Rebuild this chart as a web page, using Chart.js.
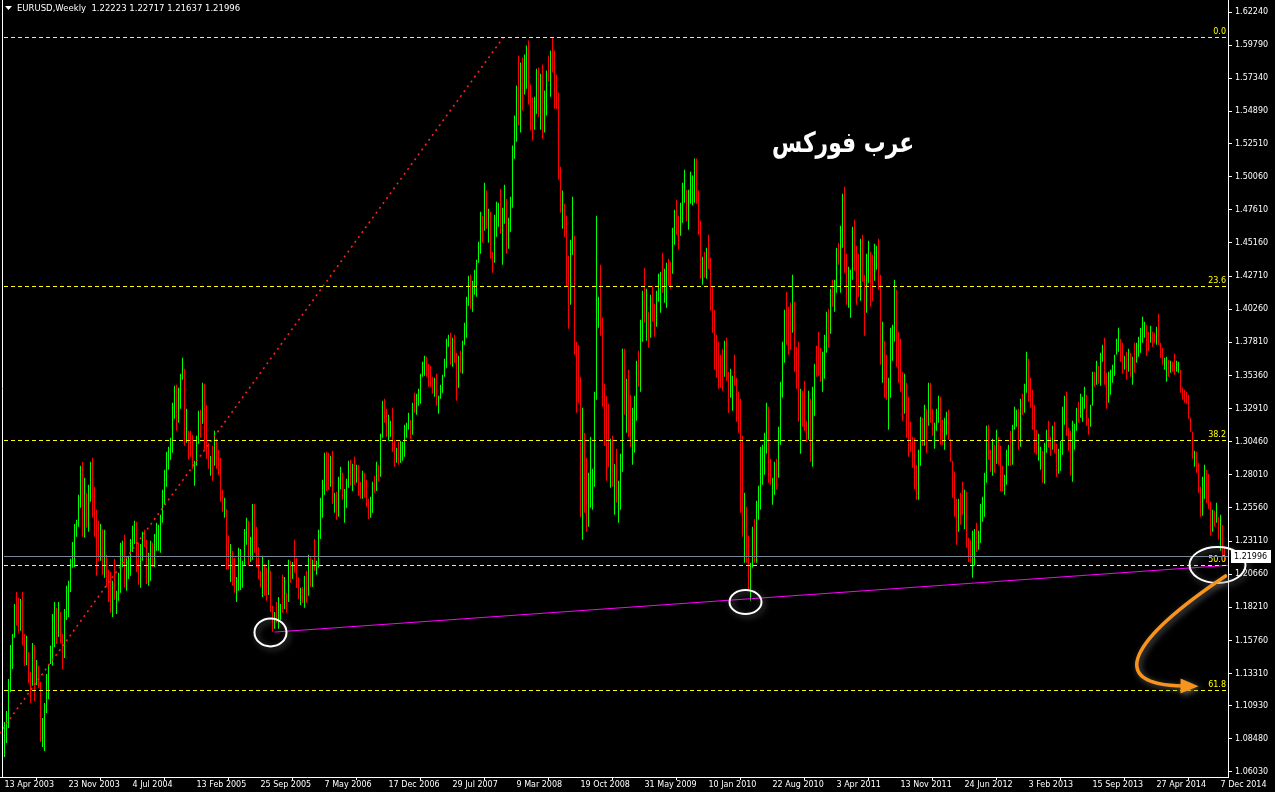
<!DOCTYPE html>
<html>
<head>
<meta charset="utf-8">
<script src="https://cdn.jsdelivr.net/npm/chart.js@4.4.1/dist/chart.umd.min.js"></script>
<style>
  html, body { margin: 0; padding: 0; background: #000; }
  canvas { display: block; }
</style>
</head>
<body>
<canvas id="chart" width="1275" height="792"></canvas>
<script>
// EURUSD weekly bars, 13 Apr 2003 .. Dec 2014 (one bar per week)
const symbolTitle = "EURUSD,Weekly";
const lastBar = [1.22223, 1.22717, 1.21637, 1.21996]; // open, high, low, close

const dateLabels = [
  "13 Apr 2003", "23 Nov 2003", "4 Jul 2004", "13 Feb 2005", "25 Sep 2005",
  "7 May 2006", "17 Dec 2006", "29 Jul 2007", "9 Mar 2008", "19 Oct 2008",
  "31 May 2009", "10 Jan 2010", "22 Aug 2010", "3 Apr 2011", "13 Nov 2011",
  "24 Jun 2012", "3 Feb 2013", "15 Sep 2013", "27 Apr 2014", "7 Dec 2014"
];
const weeksPerLabel = 32;

const priceTicks = [
  1.62240, 1.59790, 1.57340, 1.54890, 1.52510, 1.50060, 1.47610, 1.45160,
  1.42710, 1.40260, 1.37810, 1.35360, 1.32910, 1.30460, 1.28010, 1.25560,
  1.23110, 1.20660, 1.18210, 1.15760, 1.13310, 1.10930, 1.08480, 1.06030
];

const highs = [
  1.0973,1.1055,1.1291,1.1543,1.1624,1.1846,1.1935,1.1891,1.1883,1.1935,
  1.1624,1.1610,1.1491,1.1343,1.1558,1.1543,1.1432,1.1388,1.1269,1.1003,
  1.1114,1.1328,1.1395,1.1536,1.1772,1.1861,1.1817,1.1861,1.1787,1.1624,
  1.1809,1.1980,1.2017,1.2180,1.2305,1.2438,1.2468,1.2653,1.2868,1.2897,
  1.2779,1.2668,1.2727,1.2897,1.2927,1.2712,1.2542,1.2461,1.2438,1.2401,
  1.2394,1.2209,1.2098,1.2083,1.2017,1.2179,1.1943,1.2076,1.2298,1.2313,
  1.2357,1.2187,1.2202,1.2327,1.2424,1.2461,1.2453,1.2298,1.2290,1.2379,
  1.2394,1.2320,1.2224,1.2313,1.2298,1.2364,1.2446,1.2431,1.2505,1.2690,
  1.2838,1.2971,1.3008,1.3075,1.3334,1.3460,1.3467,1.3445,1.3548,1.3667,
  1.3585,1.3289,1.3127,1.3127,1.3097,1.2905,1.3090,1.3275,1.3282,1.3482,
  1.3474,1.3319,1.3038,1.2942,1.3016,1.3127,1.3067,1.2986,1.2927,1.2690,
  1.2631,1.2549,1.2350,1.2290,1.2239,1.2187,1.2046,1.2261,1.2253,1.2165,
  1.2401,1.2483,1.2461,1.2342,1.2586,1.2586,1.2416,1.2268,1.2091,1.2202,
  1.2142,1.2113,1.2172,1.2091,1.1832,1.1787,1.1861,1.1898,1.1846,1.2061,
  1.2046,1.1928,1.2172,1.2165,1.2157,1.2320,1.2187,1.2046,1.1965,1.1972,
  1.2054,1.2091,1.2209,1.2194,1.2172,1.2327,1.2165,1.2394,1.2631,1.2764,
  1.2964,1.2971,1.2964,1.2942,1.2979,1.2668,1.2675,1.2786,1.2860,1.2816,
  1.2697,1.2771,1.2905,1.2912,1.2882,1.2934,1.2875,1.2875,1.2749,1.2831,
  1.2816,1.2764,1.2624,1.2638,1.2749,1.2794,1.2897,1.2875,1.3104,1.3349,
  1.3363,1.3289,1.3245,1.3201,1.3297,1.3060,1.3001,1.3045,1.3053,1.3045,
  1.3171,1.3186,1.3260,1.3208,1.3334,1.3408,1.3400,1.3437,1.3548,1.3637,
  1.3682,1.3674,1.3622,1.3608,1.3526,1.3519,1.3548,1.3386,1.3467,1.3541,
  1.3659,1.3807,1.3837,1.3852,1.3815,1.3837,1.3704,1.3682,1.3719,1.3793,
  1.3926,1.4118,1.4274,1.4281,1.4237,1.4318,1.4392,1.4525,1.4747,1.4718,
  1.4962,1.4903,1.4769,1.4747,1.4451,1.4725,1.4821,1.4814,1.4917,1.4777,
  1.4947,1.4843,1.4703,1.4858,1.5236,1.5458,1.5680,1.5902,1.5850,1.5887,
  1.5909,1.5976,1.6013,1.5687,1.5591,1.5598,1.5805,1.5813,1.5768,1.5835,
  1.5643,1.5791,1.5902,1.5939,1.6038,1.5939,1.5761,1.5628,1.5080,1.4903,
  1.4806,1.4718,1.4422,1.4540,1.4858,1.4570,1.3785,1.3763,1.3526,1.3297,
  1.3112,1.2927,1.2816,1.3082,1.2845,1.3415,1.4718,1.4118,1.4355,1.3963,
  1.3474,1.3386,1.3326,1.3067,1.3090,1.2882,1.2993,1.2757,1.2956,1.3733,
  1.3733,1.3511,1.3578,1.3393,1.3297,1.3386,1.3645,1.3719,1.3948,1.4163,
  1.4333,1.4177,1.4007,1.4133,1.4200,1.4066,1.4163,1.4288,1.4303,1.4444,
  1.4325,1.4370,1.4399,1.4377,1.4629,1.4762,1.4836,1.4718,1.4814,1.4962,
  1.5058,1.4910,1.4910,1.5043,1.5014,1.5140,1.5140,1.4903,1.4681,1.4414,
  1.4451,1.4481,1.4577,1.4407,1.4192,1.4022,1.3837,1.3785,1.3689,1.3733,
  1.3793,1.3815,1.3563,1.3585,1.3534,1.3689,1.3519,1.3415,1.3363,1.3090,
  1.2668,1.2564,1.2350,1.2150,1.2416,1.2475,1.2609,1.2720,1.3008,1.3023,
  1.3112,1.3334,1.3304,1.2919,1.2779,1.2897,1.2919,1.3156,1.3489,1.3785,
  1.4022,1.4155,1.4044,1.4074,1.4281,1.4081,1.3748,1.3785,1.3437,1.3423,
  1.3497,1.3201,1.3423,1.3363,1.3452,1.3622,1.3756,1.3859,1.3741,1.3711,
  1.3837,1.4007,1.4029,1.4177,1.4244,1.4244,1.4481,1.4518,1.4644,1.4880,
  1.4932,1.4436,1.4340,1.4318,1.4636,1.4688,1.4496,1.4436,1.4547,1.4577,
  1.4281,1.4436,1.4532,1.4451,1.4429,1.4510,1.4496,1.4547,1.4281,1.3933,
  1.3793,1.3689,1.3519,1.3889,1.3911,1.4244,1.4170,1.3859,1.3807,1.3563,
  1.3548,1.3482,1.3378,1.3193,1.3082,1.3075,1.2875,1.2986,1.3230,1.3223,
  1.3319,1.3289,1.3482,1.3482,1.3289,1.3186,1.3289,1.3386,1.3378,1.3208,
  1.3223,1.3267,1.3282,1.3067,1.2905,1.2823,1.2624,1.2624,1.2668,1.2749,
  1.2690,1.2675,1.2335,1.2320,1.2387,1.2401,1.2446,1.2387,1.2586,1.2638,
  1.2816,1.3164,1.3171,1.2986,1.3067,1.3023,1.3134,1.3082,1.3016,1.2868,
  1.2801,1.2986,1.3023,1.3127,1.3171,1.3304,1.3282,1.3289,1.3363,1.3400,
  1.3474,1.3711,1.3659,1.3519,1.3430,1.3319,1.3134,1.3104,1.3008,1.2979,
  1.3038,1.3134,1.3201,1.3082,1.3164,1.3193,1.3030,1.2994,1.3053,1.3304,
  1.3386,1.3415,1.3149,1.3127,1.3201,1.3178,1.3297,1.3341,1.3400,1.3378,
  1.3452,1.3393,1.3223,1.3319,1.3563,1.3563,1.3645,1.3608,1.3704,1.3763,
  1.3815,1.3556,1.3563,1.3578,1.3615,1.3689,1.3807,1.3889,1.3807,1.3778,
  1.3682,1.3711,1.3733,1.3704,1.3674,1.3778,1.3778,1.3822,1.3889,1.3970,
  1.3933,1.3911,1.3859,1.3904,1.3859,1.3852,1.3896,1.3993,1.3778,1.3741,
  1.3667,1.3674,1.3652,1.3645,1.3637,1.3696,1.3645,1.3637,1.3578,1.3445,
  1.3430,1.3415,1.3393,1.3223,1.3119,1.2979,1.2971,1.2890,1.2712,1.2786,
  1.2875,1.2838,1.2808,1.2601,1.2542,1.2535,1.2594,1.2490,1.2505,1.2431,
  1.22717
];

const lows = [
  1.0714,1.0818,1.0929,1.1195,1.1365,1.1595,1.1684,1.1632,1.1647,1.1543,
  1.1388,1.1395,1.1262,1.1114,1.1240,1.1129,1.1247,1.1225,1.0825,1.0788,
  1.0759,1.1040,1.1143,1.1402,1.1388,1.1528,1.1550,1.1602,1.1558,1.1365,
  1.1447,1.1728,1.1750,1.1935,1.2113,1.2120,1.2342,1.2416,1.2557,1.2342,
  1.2335,1.2409,1.2379,1.2601,1.2483,1.2342,1.2054,1.2165,1.2165,1.2061,
  1.2039,1.1972,1.1861,1.1780,1.1750,1.1876,1.1772,1.1869,1.1928,1.2120,
  1.1965,1.1943,1.2031,1.2054,1.2231,1.2290,1.2083,1.1987,1.1965,1.2165,
  1.2268,1.1994,1.1980,1.2017,1.2120,1.2120,1.2239,1.2239,1.2224,1.2446,
  1.2579,1.2712,1.2838,1.2912,1.2964,1.3215,1.3127,1.3186,1.3289,1.3504,
  1.3016,1.3038,1.2912,1.2934,1.2845,1.2720,1.2868,1.3030,1.3075,1.3178,
  1.2986,1.2920,1.2845,1.2794,1.2757,1.2868,1.2845,1.2801,1.2601,1.2527,
  1.2483,1.2098,1.2105,1.2009,1.1980,1.1928,1.1861,1.1943,1.1950,1.1965,
  1.2128,1.2283,1.2128,1.2157,1.2172,1.2224,1.2120,1.2031,1.1972,1.1898,
  1.1906,1.1869,1.1913,1.1787,1.1640,1.1662,1.1706,1.1662,1.1728,1.1780,
  1.1809,1.1780,1.1861,1.2002,1.2031,1.2076,1.1965,1.1883,1.1839,1.1854,
  1.1817,1.1854,1.1906,1.1972,1.1972,1.2091,1.2061,1.2113,1.2327,1.2483,
  1.2653,1.2682,1.2690,1.2712,1.2586,1.2520,1.2468,1.2490,1.2697,1.2616,
  1.2446,1.2557,1.2705,1.2720,1.2682,1.2727,1.2742,1.2646,1.2624,1.2624,
  1.2631,1.2564,1.2475,1.2483,1.2520,1.2668,1.2682,1.2749,1.2786,1.3075,
  1.3186,1.3082,1.3053,1.3082,1.2971,1.2860,1.2890,1.2875,1.2890,1.2905,
  1.2934,1.3075,1.3134,1.3067,1.3097,1.3260,1.3245,1.3312,1.3326,1.3526,
  1.3534,1.3526,1.3452,1.3452,1.3400,1.3378,1.3312,1.3252,1.3363,1.3408,
  1.3526,1.3593,1.3748,1.3615,1.3600,1.3630,1.3349,1.3445,1.3556,1.3548,
  1.3763,1.3815,1.4052,1.4029,1.4007,1.4133,1.4118,1.4370,1.4436,1.4518,
  1.4607,1.4621,1.4518,1.4400,1.4296,1.4370,1.4562,1.4636,1.4584,1.4355,
  1.4658,1.4436,1.4473,1.4599,1.4777,1.5139,1.5265,1.5384,1.5332,1.5495,
  1.5613,1.5657,1.5539,1.5347,1.5273,1.5354,1.5472,1.5450,1.5354,1.5287,
  1.5332,1.5458,1.5709,1.5598,1.5776,1.5509,1.5509,1.4984,1.4740,1.4621,
  1.4562,1.4192,1.3881,1.4059,1.4429,1.3689,1.3260,1.3334,1.2490,1.2320,
  1.2520,1.2379,1.2416,1.2557,1.2542,1.2712,1.3356,1.3889,1.3830,1.3304,
  1.3016,1.2757,1.2860,1.2705,1.2712,1.2505,1.2594,1.2446,1.2542,1.2823,
  1.3245,1.3112,1.3082,1.3008,1.2875,1.2964,1.3201,1.3452,1.3415,1.3785,
  1.3926,1.3793,1.3741,1.3815,1.3933,1.3822,1.3896,1.4081,1.3999,1.4148,
  1.4074,1.4037,1.4200,1.4177,1.4288,1.4503,1.4577,1.4466,1.4570,1.4666,
  1.4814,1.4673,1.4614,1.4806,1.4792,1.4814,1.4806,1.4577,1.4251,1.4207,
  1.4259,1.4251,1.4325,1.4015,1.3852,1.3578,1.3519,1.3437,1.3445,1.3423,
  1.3526,1.3497,1.3260,1.3371,1.3275,1.3460,1.3193,1.3112,1.2520,1.2342,
  1.2150,1.2150,1.1950,1.1869,1.2113,1.2150,1.2150,1.2468,1.2542,1.2727,
  1.2801,1.2956,1.2742,1.2727,1.2579,1.2653,1.2690,1.2779,1.3023,1.3371,
  1.3630,1.3763,1.3689,1.3726,1.3852,1.3563,1.3437,1.3193,1.2956,1.3156,
  1.3127,1.3045,1.3060,1.2897,1.2860,1.3238,1.3526,1.3534,1.3489,1.3415,
  1.3511,1.3704,1.3741,1.3844,1.4044,1.4007,1.4148,1.4355,1.4148,1.4481,
  1.4296,1.4059,1.4037,1.3963,1.4244,1.4311,1.4059,1.4118,1.4089,1.4229,
  1.3830,1.3999,1.4222,1.4044,1.4089,1.4237,1.4318,1.4170,1.3615,1.3482,
  1.3371,1.3356,1.3134,1.3371,1.3645,1.3785,1.3600,1.3482,1.3415,1.3201,
  1.3252,1.3075,1.2934,1.2971,1.2853,1.2697,1.2616,1.2616,1.2868,1.3016,
  1.3016,1.2964,1.3164,1.3186,1.3090,1.2994,1.3127,1.3186,1.3023,1.3023,
  1.2986,1.3097,1.3060,1.2897,1.2631,1.2490,1.2283,1.2379,1.2431,1.2505,
  1.2401,1.2261,1.2157,1.2150,1.2039,1.2128,1.2231,1.2246,1.2298,1.2453,
  1.2490,1.2742,1.2912,1.2823,1.2794,1.2816,1.2882,1.2875,1.2682,1.2682,
  1.2653,1.2727,1.2868,1.2868,1.2875,1.3134,1.3156,1.2986,1.3008,1.3245,
  1.3260,1.3408,1.3341,1.3297,1.3134,1.2964,1.2949,1.2905,1.2838,1.2742,
  1.2734,1.2964,1.3001,1.2942,1.2986,1.2964,1.2786,1.2808,1.2831,1.2949,
  1.3171,1.3090,1.2979,1.2794,1.2749,1.2986,1.3127,1.3186,1.3223,1.3193,
  1.3289,1.3164,1.3097,1.3156,1.3312,1.3452,1.3467,1.3474,1.3460,1.3637,
  1.3467,1.3289,1.3334,1.3393,1.3482,1.3534,1.3689,1.3711,1.3637,1.3548,
  1.3578,1.3504,1.3563,1.3526,1.3467,1.3556,1.3630,1.3674,1.3704,1.3778,
  1.3815,1.3682,1.3719,1.3778,1.3748,1.3778,1.3763,1.3763,1.3667,1.3615,
  1.3578,1.3489,1.3526,1.3556,1.3563,1.3541,1.3563,1.3556,1.3408,1.3356,
  1.3334,1.3326,1.3215,1.3119,1.2919,1.2860,1.2816,1.2668,1.2490,1.2498,
  1.2624,1.2594,1.2550,1.2350,1.2379,1.2416,1.2446,1.2320,1.2239,1.2209,
  1.21637
];

// bar direction: G = up week, R = down week
const barColors = (
  "GGGGGGRRGR RGRRGRGRRG GGGGGGRGRR GGGGGGGGGR GRGGRRRRGR " +
  "GRRRGRGGGG RGGGGGRRGG RRGGRGGGGG GGGGGGRGGG RGRRRGGGRG " +
  "RRRGRGRRRR GRRGRRGGGG GGRGGRRRRG RRGRRGRGGR GRGRGRRRGR " +
  "GRGRGRGGGG GRRGRGRGGR GGGRGRGRRG RRRGGRGRGG RRGGRRGRGG " +
  "GGGRGRGGGG GRRRRGRGGG GGGRGRRGRG GGGRGGGGGR GRGRRGGGRG " +
  "GRGGGGGRGR GGRRRGGRGR GGRGRRRRRG RRRGGRRRRG RRGGGGGGRR " +
  "RRRGRGRGGG RGRRGGGRGG RGRGRRGGGR GGRRGGRRGG GRGGGGRRRG " +
  "RGRRRRRRRR GRRGGRRRRR GRRGGRGGGG GGRRGGRGGG GRRRGRRRGR " +
  "RRGRGGRRRG GGRGRGGRGG RRGGGRRRGR RGGRRGGRRG RRGGGGRRRR " +
  "GRRRRRRGGR GRGRRGGGRR GGRRRRRGRR GRRRGGRGGG GGRRGRGRRR " +
  "GGGRGGGRGR GGRRRRRGGR GGRRGRRGGG GRRRGGGRGG GRRGGRGRGG " +
  "RRGGGGGGRR GRGRGRGGGG GRRGRRGRRR GGRGRRGGRR RRRRRGRRRG " +
  "GRRRGRGRGR R"
).replace(/ /g, "").split("");

// Fibonacci retracement drawn from the 2000 low to the 2008 high
const fibNames = ["0.0", "23.6", "38.2", "50.0", "61.8"];
const fibPrices = [1.6038, 1.4195, 1.3055, 1.2133, 1.1211];
const fibTrend = [{ x: -132.8, y: 0.8228 }, { x: 249.5, y: 1.6038 }];

// rising support line through the 2005 and 2010 lows
const supportLine = [{ x: 135, y: 1.1638 }, { x: 612, y: 1.2132 }];

// lows that were circled on the chart (bar index, price)
const circledLows = [[133, 1.1635], [370.5, 1.1860], [606.5, 1.2134]];

const watermark = "عرب فوركس";

const barData = highs.map((h, i) => ({ x: i, y: [lows[i], h] }));
const AXIS_FONT = { family: "DejaVu Sans", size: 8 };

const overlay = {
  id: "overlay",
  afterDatasetsDraw(chart) {
    const ctx = chart.ctx;
    const ca = chart.chartArea;
    const xs = chart.scales.x;
    const ys = chart.scales.y;
    const px = (i, p) => [xs.getPixelForValue(i), ys.getPixelForValue(p)];
    ctx.save();
    ctx.beginPath();
    ctx.rect(ca.left, ca.top, ca.right - ca.left, ca.bottom - ca.top);
    ctx.clip();

    // window edge on the left
    ctx.strokeStyle = "#ffffff";
    ctx.lineWidth = 1;
    ctx.beginPath();
    ctx.moveTo(2.5, ca.top);
    ctx.lineTo(2.5, ca.bottom);
    ctx.stroke();

    // fibo levels
    ctx.strokeStyle = "#ffff00";
    ctx.setLineDash([4, 3]);
    fibPrices.forEach(p => {
      const y = Math.round(ys.getPixelForValue(p)) + 0.5;
      ctx.beginPath();
      ctx.moveTo(ca.left + 4, y);
      ctx.lineTo(ca.right, y);
      ctx.stroke();
    });
    ctx.setLineDash([]);
    ctx.fillStyle = "#ffff00";
    ctx.font = '8px "DejaVu Sans"';
    ctx.textAlign = "right";
    ctx.textBaseline = "bottom";
    fibPrices.forEach((p, k) => {
      const y = Math.round(ys.getPixelForValue(p));
      ctx.fillText(fibNames[k], ca.right - 2, y - 1);
    });

    // bid line
    const by = Math.round(ys.getPixelForValue(lastBar[3])) + 0.5;
    ctx.strokeStyle = "#778899";
    ctx.beginPath();
    ctx.moveTo(ca.left + 4, by);
    ctx.lineTo(ca.right, by);
    ctx.stroke();
    ctx.restore();

    // circles (the last one runs over the price axis)
    ctx.save();
    const radii = [[16, 14], [16, 12], [28, 18]];
    ctx.strokeStyle = "#ffffff";
    ctx.lineWidth = 2;
    ctx.shadowColor = "rgba(120,120,120,0.8)";
    ctx.shadowBlur = 6;
    ctx.shadowOffsetX = 2;
    ctx.shadowOffsetY = 2;
    circledLows.forEach((c, k) => {
      const p = px(c[0], c[1]);
      ctx.beginPath();
      ctx.ellipse(p[0], p[1], radii[k][0], radii[k][1], 0, 0, Math.PI * 2);
      ctx.stroke();
    });

    // orange arrow towards the 61.8 level
    const a0 = px(610.5, 1.2053), a1 = px(562.7, 1.1579), a2 = px(550.2, 1.1246), a3 = px(589.5, 1.1239);
    ctx.strokeStyle = "#f7941d";
    ctx.fillStyle = "#f7941d";
    ctx.lineWidth = 3.5;
    ctx.lineCap = "round";
    ctx.beginPath();
    ctx.moveTo(a0[0], a0[1]);
    ctx.bezierCurveTo(a1[0], a1[1], a2[0], a2[1], a3[0], a3[1]);
    ctx.stroke();
    const ang = Math.atan2(a3[1] - a2[1], a3[0] - a2[0]);
    const c = Math.cos(ang), s = Math.sin(ang);
    const tip = [a3[0] + 15 * c, a3[1] + 15 * s];
    ctx.beginPath();
    ctx.moveTo(tip[0], tip[1]);
    ctx.lineTo(a3[0] - 3 * c - 7.5 * s, a3[1] - 3 * s + 7.5 * c);
    ctx.lineTo(a3[0] - 3 * c + 7.5 * s, a3[1] - 3 * s - 7.5 * c);
    ctx.closePath();
    ctx.fill();
    ctx.restore();

    // watermark text
    ctx.save();
    ctx.fillStyle = "#ffffff";
    ctx.font = 'bold 28px "DejaVu Sans"';
    ctx.textAlign = "center";
    ctx.textBaseline = "middle";
    ctx.shadowColor = "rgba(0,0,0,0.9)";
    ctx.shadowBlur = 2;
    const w = px(419.3, 1.5240);
    ctx.translate(w[0], w[1]);
    ctx.scale(0.78, 1);
    ctx.fillText(watermark, 0, 0);
    ctx.restore();
  },
  afterDraw(chart) {
    const ctx = chart.ctx;
    const ys = chart.scales.y;
    ctx.save();
    // title
    ctx.fillStyle = "#ffffff";
    ctx.beginPath();
    ctx.moveTo(5, 6);
    ctx.lineTo(12, 6);
    ctx.lineTo(8.5, 10);
    ctx.closePath();
    ctx.fill();
    ctx.font = '8.5px "DejaVu Sans"';
    ctx.textAlign = "left";
    ctx.textBaseline = "middle";
    ctx.fillText(symbolTitle + "  " + lastBar.map(v => v.toFixed(5)).join(" "), 17, 9);
    // bid price label on the axis
    const y = Math.round(ys.getPixelForValue(lastBar[3]));
    ctx.fillRect(1231, y - 6, 40, 13);
    ctx.fillStyle = "#000000";
    ctx.font = '8px "DejaVu Sans"';
    ctx.fillText(lastBar[3].toFixed(5), 1234, y + 0.5);
    ctx.restore();
  }
};

new Chart(document.getElementById("chart"), {
  type: "bar",
  data: {
    datasets: [
      {
        type: "line",
        data: supportLine,
        borderColor: "#ff00ff",
        borderWidth: 1,
        pointRadius: 0,
        order: 1
      },
      {
        type: "line",
        data: fibTrend,
        borderColor: "#ff2020",
        borderWidth: 1.6,
        borderDash: [2, 4],
        pointRadius: 0,
        order: 2
      },
      {
        data: barData,
        backgroundColor: barColors.map(c => c === "G" ? "#00ff00" : "#ff0000"),
        barThickness: 1,
        inflateAmount: 0,
        borderWidth: 0,
        order: 10
      }
    ]
  },
  options: {
    responsive: false,
    animation: false,
    devicePixelRatio: 1,
    layout: { padding: 0 },
    plugins: { legend: { display: false }, tooltip: { enabled: false } },
    scales: {
      x: {
        type: "linear",
        min: -2.25,
        max: 611.75,
        offset: false,
        grid: { drawOnChartArea: false, drawTicks: true, tickLength: 3, color: "#ffffff" },
        border: { display: true, color: "#ffffff" },
        ticks: {
          autoSkip: false,
          maxRotation: 0,
          align: "start",
          padding: 0,
          color: "#ffffff",
          font: AXIS_FONT,
          callback: (v) => dateLabels[Math.round(v / weeksPerLabel)]
        },
        afterBuildTicks: (s) => { s.ticks = dateLabels.map((d, k) => ({ value: k * weeksPerLabel })); },
        afterFit: (s) => { s.height = 15; s.paddingLeft = 0; s.paddingRight = 0; }
      },
      y: {
        type: "linear",
        position: "right",
        min: 1.0566,
        max: 1.63128,
        grid: { drawOnChartArea: false, drawTicks: true, tickLength: 4, color: "#ffffff" },
        border: { display: true, color: "#ffffff" },
        ticks: {
          autoSkip: false,
          padding: 3,
          color: "#ffffff",
          font: AXIS_FONT,
          callback: (v) => v.toFixed(5)
        },
        afterBuildTicks: (s) => { s.ticks = priceTicks.map(v => ({ value: v })); },
        afterFit: (s) => { s.width = 47; s.paddingTop = 0; s.paddingBottom = 0; }
      }
    }
  },
  plugins: [overlay]
});
</script>
</body>
</html>
